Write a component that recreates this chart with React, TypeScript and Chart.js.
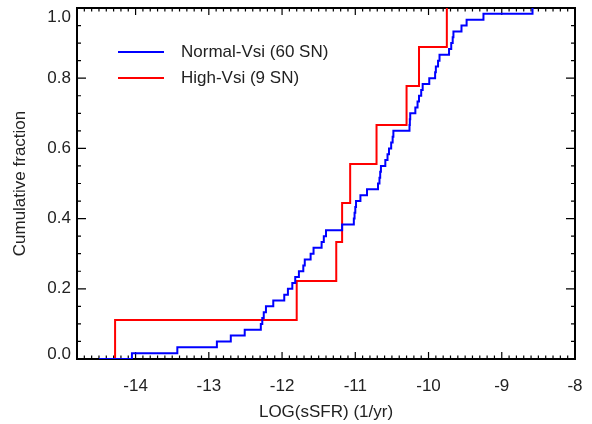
import React, { useEffect, useRef } from "react";
import { Chart, registerables } from "chart.js";

Chart.register(...registerables);

// Sorted log(sSFR) values for each sample (cumulative distribution steps)
const normalVsi: number[] = [
  -14.05, -13.43, -12.89, -12.70, -12.51, -12.29, -12.27, -12.25, -12.22, -12.12,
  -11.97, -11.92, -11.86, -11.82, -11.77, -11.71, -11.69, -11.61, -11.57, -11.46,
  -11.43, -11.40, -11.18, -11.02, -11.01, -11.00, -10.99, -10.93, -10.84, -10.69,
  -10.67, -10.66, -10.65, -10.59, -10.56, -10.54, -10.51, -10.49, -10.48, -10.26,
  -10.255, -10.25, -10.18, -10.15, -10.13, -10.10, -10.08, -9.99, -9.91, -9.90,
  -9.87, -9.85, -9.72, -9.69, -9.67, -9.66, -9.55, -9.48, -9.25, -8.58,
];
const highVsi: number[] = [-14.28, -11.80, -11.26, -11.18, -11.07, -10.71, -10.30, -10.13, -9.75];
const curveStart = -14.5;

const seriesLabels = ["Normal-Vsi (60 SN)", "High-Vsi (9 SN)"];
const seriesColors = ["#0000ff", "#ff0000"];

const xTicks = [-14, -13, -12, -11, -10, -9, -8];
const yTicks = [0, 0.2, 0.4, 0.6, 0.8, 1.0];
const xRange = [-14.8, -8];
const yRange = [0, 1];
const xTitle = "LOG(sSFR) (1/yr)";
const yTitle = "Cumulative fraction";

function cdf(values: number[]) {
  const n = values.length;
  const pts = [{ x: curveStart, y: 0 }];
  values.forEach((v, i) => pts.push({ x: v, y: (i + 1) / n }));
  return pts;
}

const FONT = '17px "Liberation Sans", Arial, Helvetica, sans-serif';
const TEXT = "#222";

const idlAxes = {
  id: "idlAxes",
  beforeDatasetsDraw(chart: any) {
    const { ctx, chartArea } = chart;
    const { left, right, top, bottom } = chartArea;
    const xs = chart.scales.x;
    const ys = chart.scales.y;
    ctx.save();
    ctx.strokeStyle = "#000";
    ctx.lineWidth = 1.2;
    const x0 = Math.round(xRange[0] * 10);
    const x1 = Math.round(xRange[1] * 10);
    for (let i = x0; i <= x1; i++) {
      const v = i / 10;
      const px = xs.getPixelForValue(v);
      const major = i % 10 === 0;
      const len = major ? 7 : 3.5;
      ctx.beginPath();
      ctx.moveTo(px, bottom);
      ctx.lineTo(px, bottom - len);
      ctx.moveTo(px, top);
      ctx.lineTo(px, top + len);
      ctx.stroke();
    }
    const y0 = Math.round(yRange[0] * 20);
    const y1 = Math.round(yRange[1] * 20);
    for (let i = y0; i <= y1; i++) {
      const v = i / 20;
      const py = ys.getPixelForValue(v);
      const major = i % 4 === 0;
      const len = major ? 9 : 4;
      ctx.beginPath();
      ctx.moveTo(left, py);
      ctx.lineTo(left + len, py);
      ctx.moveTo(right, py);
      ctx.lineTo(right - len, py);
      ctx.stroke();
    }
    ctx.lineWidth = 2;
    ctx.strokeRect(left, top, right - left, bottom - top);
    ctx.restore();
  },
  afterDatasetsDraw(chart: any) {
    const { ctx, chartArea } = chart;
    const { left, right, top, bottom } = chartArea;
    const xs = chart.scales.x;
    const ys = chart.scales.y;
    ctx.save();
    ctx.fillStyle = TEXT;
    ctx.font = FONT;
    ctx.textAlign = "center";
    ctx.textBaseline = "middle";
    xTicks.forEach((t) => {
      ctx.fillText(String(t), xs.getPixelForValue(t), bottom + 27);
    });
    ctx.textAlign = "right";
    yTicks.forEach((t) => {
      let py = ys.getPixelForValue(t);
      py = Math.min(Math.max(py, top + 9), bottom - 5);
      ctx.fillText(t.toFixed(1), left - 6, py);
    });
    ctx.textAlign = "center";
    ctx.fillText(xTitle, (left + right) / 2, bottom + 53);
    ctx.save();
    ctx.translate(20, (top + bottom) / 2);
    ctx.rotate(-Math.PI / 2);
    ctx.fillText(yTitle, 0, 0);
    ctx.restore();

    ctx.textAlign = "left";
    seriesLabels.forEach((lab, i) => {
      const ly = 52 + i * 26;
      ctx.strokeStyle = seriesColors[i];
      ctx.lineWidth = 2;
      ctx.beginPath();
      ctx.moveTo(118, ly);
      ctx.lineTo(164, ly);
      ctx.stroke();
      ctx.fillText(lab, 181, ly);
    });
    ctx.restore();
  },
};

export default function App() {
  const ref = useRef<HTMLCanvasElement | null>(null);
  useEffect(() => {
    if (!ref.current) return;
    const chart = new Chart(ref.current, {
      type: "line",
      data: {
        datasets: [
          {
            label: seriesLabels[0],
            data: cdf(normalVsi),
            borderColor: seriesColors[0],
            borderWidth: 2,
            pointRadius: 0,
            stepped: "before",
            fill: false,
          },
          {
            label: seriesLabels[1],
            data: cdf(highVsi),
            borderColor: seriesColors[1],
            borderWidth: 2,
            pointRadius: 0,
            stepped: "before",
            fill: false,
          },
        ],
      },
      options: {
        animation: false,
        responsive: false,
        devicePixelRatio: 1,
        layout: { padding: { left: 77, right: 17, top: 8, bottom: 65 } },
        plugins: { legend: { display: false }, tooltip: { enabled: false } },
        scales: {
          x: { type: "linear", min: xRange[0], max: xRange[1], display: false },
          y: { type: "linear", min: yRange[0], max: yRange[1], display: false },
        },
      },
      plugins: [idlAxes],
    });
    return () => chart.destroy();
  }, []);
  return (
    <div style={{ position: "fixed", left: 0, top: 0, width: 592, height: 424, background: "#fff" }}>
      <canvas ref={ref} width={592} height={424} />
    </div>
  );
}
